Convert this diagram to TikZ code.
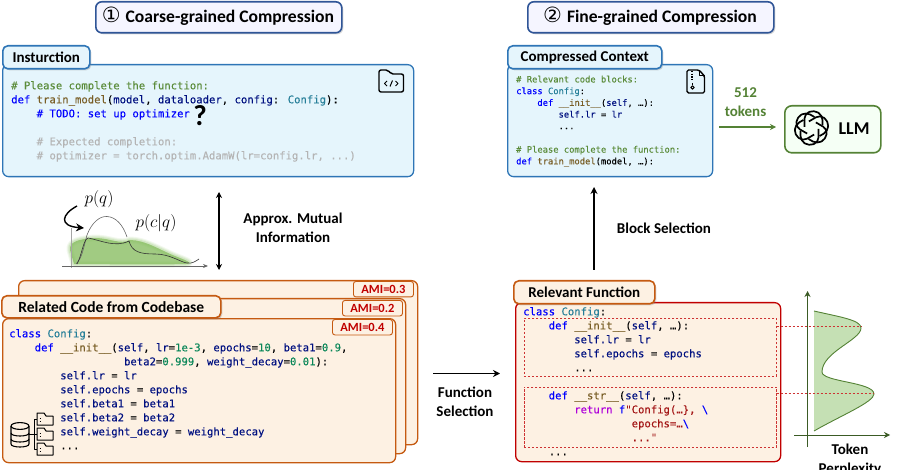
\documentclass[tikz,border=0pt]{standalone}
\usepackage{fontspec}
\setmainfont{Carlito}
\newfontfamily\codefont[FakeBold=0.12]{DejaVu Sans Mono}
\newfontfamily\symfont{DejaVu Sans}
\usetikzlibrary{arrows.meta,shadows,calc}
\definecolor{panelblue}{HTML}{E5F5FC}
\definecolor{bordblue}{HTML}{2E75B6}
\definecolor{navyb}{HTML}{2F5597}
\definecolor{cream}{HTML}{FDF1E3}
\definecolor{bordor}{HTML}{C55A11}
\definecolor{dred}{HTML}{C00000}
\definecolor{grn}{HTML}{548235}
\definecolor{lgrn}{HTML}{C5E0B4}
\definecolor{blob}{HTML}{86BD5F}
\definecolor{ckw}{HTML}{0000FF}
\definecolor{cfn}{HTML}{795E26}
\definecolor{cvr}{HTML}{001080}
\definecolor{cty}{HTML}{267F99}
\definecolor{ccm}{HTML}{5B8C3A}
\definecolor{cnm}{HTML}{098658}
\definecolor{cst}{HTML}{A31515}
\definecolor{crt}{HTML}{AF00DB}
\definecolor{cgy}{HTML}{B4B4B4}
\newcommand{\kw}[1]{\textcolor{ckw}{#1}}
\newcommand{\fn}[1]{\textcolor{cfn}{#1}}
\newcommand{\vr}[1]{\textcolor{cvr}{#1}}
\newcommand{\ty}[1]{\textcolor{cty}{#1}}
\newcommand{\cm}[1]{\textcolor{ccm}{#1}}
\newcommand{\nm}[1]{\textcolor{cnm}{#1}}
\newcommand{\st}[1]{\textcolor{cst}{#1}}
\newcommand{\rt}[1]{\textcolor{crt}{#1}}
\newcommand{\gy}[1]{\textcolor{cgy}{#1}}
\newcommand{\ind}[1]{\hspace*{#1\dimexpr 0.602em\relax}}
\newcommand{\blobpath}{(70,250) .. controls (69,241) and (80,239) .. (95,238) .. controls (110,238) and (120,245) .. (130,240) .. controls (145,240) and (160,250) .. (175,256) .. controls (185,260) and (194,263) .. (186,264) .. controls (150,265) and (100,264) .. (74,264) -- cycle}
\tikzset{
  x=1pt,y=-1pt,
  panel/.style={draw=#1,line width=1.3pt,rounded corners=6pt,anchor=north west,inner sep=0pt},
  titlebox/.style={draw=navyb,fill=white!96!blue,line width=1.6pt,rounded corners=6pt,anchor=north west,inner sep=0pt,
     drop shadow={opacity=.3,shadow xshift=1.5pt,shadow yshift=-1.5pt}},
  tagbox/.style={draw=#1,line width=1.6pt,rounded corners=5pt,anchor=north west,inner sep=0pt,
     drop shadow={opacity=.3,shadow xshift=1.5pt,shadow yshift=-1.5pt}},
  amibox/.style={draw=bordor,fill=cream,line width=.9pt,rounded corners=2.5pt,anchor=north west,inner sep=0pt,
     minimum width=60pt,minimum height=15.5pt,text=dred,font=\fontsize{12.5}{14}\selectfont\bfseries},
  lab/.style={inner sep=0pt,align=center,font=\fontsize{15}{19}\selectfont\bfseries},
  codeA/.style={anchor=north west,inner sep=0pt,align=left,font=\codefont\fontsize{10.6}{14}\selectfont,text=black},
  codeB/.style={anchor=north west,inner sep=0pt,align=left,font=\codefont\fontsize{8.8}{11.7}\selectfont,text=black},
  flow/.style={draw=black,line width=1.5pt,-{Stealth[length=7pt,width=7pt]}},
  icon/.style={draw=black,line width=1.4pt,line join=round},
  ticon/.style={draw=black,line width=1pt,line join=round},
  ddash/.style={draw=dred!80!white,line width=.5pt,dash pattern=on 2.5pt off 1.5pt},
}
\begin{document}
\begin{tikzpicture}
\useasboundingbox (0,0) rectangle (902,470);
\clip (0,0) rectangle (902,470);

% titles
\node[titlebox,minimum width=246pt,minimum height=31pt] (t1) at (95,1) {};
\node[inner sep=0pt,font=\fontsize{17.6}{22}\selectfont\bfseries] (t1t) at (218,16) {{\symfont\mdseries\fontsize{21}{20}\selectfont ①}\hspace{1pt} Coarse-grained Compression};
\node[titlebox,minimum width=246pt,minimum height=31pt] (t2) at (527,1) {};
\node[inner sep=0pt,font=\fontsize{17.6}{22}\selectfont\bfseries] (t2t) at (650,16) {{\symfont\mdseries\fontsize{21}{20}\selectfont ②}\hspace{1pt} Fine-grained Compression};

% instruction panel
\node[panel=bordblue,fill=panelblue,minimum width=411pt,minimum height=112pt] (ins) at (2,64) {};
\node[tagbox=bordblue,fill=panelblue,minimum width=87pt,minimum height=23pt,font=\fontsize{15}{18}\selectfont\bfseries] (instag) at (2,45) {Insturction};
\node[codeA] (inscode) at (11,81) {\cm{\# Please complete the function:}\\
\kw{def} \fn{train\_model}(\vr{model}, \vr{dataloader}, \vr{config}: \ty{Config}):\\
\ind{4}\kw{\# TODO: set up optimizer}\\
\mbox{}\\
\ind{4}\gy{\# Expected completion:}\\
\ind{4}\gy{\# optimizer = torch.optim.AdamW(lr=config.lr, ...)}};
\node[inner sep=0pt,font=\fontsize{29}{30}\selectfont\bfseries] (qm) at (200,116) {?};

% folder code icon
\draw[icon,rounded corners=2pt] (379,92) -- (379,70) -- (388,70) -- (391,74) -- (403.5,74) -- (403.5,92) -- cycle;
\draw[ticon] (387,81) -- (384.5,83.5) -- (387,86);
\draw[ticon] (395.5,81) -- (398,83.5) -- (395.5,86);
\draw[ticon] (392.5,80.5) -- (390,86.5);

% compressed panel
\node[panel=bordblue,fill=panelblue,minimum width=205pt,minimum height=112pt] (comp) at (507,64) {};
\node[tagbox=bordblue,fill=panelblue,minimum width=154pt,minimum height=23pt,font=\fontsize{15}{18}\selectfont\bfseries] (comptag) at (507,45) {Compressed Context};
\node[codeB] (compcode) at (516,75.5) {\cm{\# Relevant code blocks:}\\
\kw{class} \ty{Config}:\\
\ind{4}\kw{def} \fn{\_\_init\_\_}(\vr{self}, …):\\
\ind{8}\vr{self.lr} = \vr{lr}\\
\ind{8}...\\
\mbox{}\\
\cm{\# Please complete the function:}\\
\kw{def} \fn{train\_model}(model, …):};
% zip icon
\draw[icon,rounded corners=1.5pt] (687,70) -- (699,70) -- (704.5,76) -- (704.5,93) -- (687,93) -- cycle;
\draw[ticon] (699,70) -- (699,76) -- (704.5,76);
\draw[ticon,line width=2pt,dash pattern=on 1.4pt off 1.2pt] (692,71) -- (692,81);
\draw[ticon] (692.5,83) -- (692.5,85);
\draw[ticon] (692.5,87.5) circle (1.7pt);

% LLM
\node[draw=grn,fill=white!96!green,line width=1.6pt,rounded corners=7pt,anchor=north west,inner sep=0pt,minimum width=96pt,minimum height=47pt] (llm) at (784,105) {};
\foreach \a in {0,60,...,300}{
  \draw[black,line width=1.7pt,rounded corners=4.5pt,rotate around={\a:(811.5,128)}] (804.5,127) -- (804.5,114) -- (814,110) -- (822.5,115.5) -- (822.5,125);
}
\node[inner sep=0pt,font=\fontsize{18}{20}\selectfont\bfseries] (llmt) at (854,129) {LLM};
\coordinate (ca) at (719,127);
\coordinate (cb) at (776,127);
\draw[draw=grn,line width=1.6pt,-{Stealth[length=6pt,width=6pt]}] (ca) -- (cb);
\node[lab,text=grn] (tok) at (745.5,102) {512\\tokens};

% mutual info
\coordinate (ma) at (219,192);
\coordinate (mb) at (219,270);
\draw[draw=black,line width=1.4pt,{Stealth[length=6pt,width=6pt]}-{Stealth[length=6pt,width=6pt]}] (ma) -- (mb);
\node[lab] (ami) at (293,228) {Approx. Mutual\\Information};

% sketch
\foreach \w/\o in {7/.10,5/.14,3/.2}{
 \draw[draw=blob,line width=\w pt,opacity=\o,line join=round] \blobpath;
}
\fill[fill=blob,opacity=.78] \blobpath;
\draw[gray!70,line width=.8pt] (71,228) -- (71,268);
\draw[gray!80!black,line width=.8pt,-{Stealth[length=5pt,width=4pt]}] (62,266) -- (208,266);
\draw[gray!80!black,line width=.6pt] (76,264) .. controls (82,258) and (83,250) .. (87,235) .. controls (92,222) and (100,216) .. (107,216.5) .. controls (116,217) and (123,225) .. (127,237);
\draw[black!80,line width=.6pt] (77,264) .. controls (82,255) and (83,240) .. (88,238) .. controls (100,240) and (115,248) .. (129,241) .. controls (132,252) and (140,254) .. (155,254) .. controls (170,254) and (180,262) .. (187,263) .. controls (192,264) and (196,261) .. (199,259);
\draw[black,line width=1.4pt,-{Stealth[length=8pt,width=8pt]}] (77,206) .. controls (62,214) and (58,226) .. (84,228);
\node[inner sep=0pt,font=\fontsize{17}{18}\selectfont] (pq) at (99,199) {$p(q)$};
\node[inner sep=0pt,font=\fontsize{17}{18}\selectfont] (pcq) at (156,223) {$p(c|q)$};

% stacked cards
\node[panel=bordor,fill=cream,minimum width=399pt,minimum height=164pt] (card3) at (18,280) {};
\node[panel=bordor,fill=cream,minimum width=398pt,minimum height=155pt] (card2) at (7,298) {};
\node[panel=bordor,fill=cream,minimum width=393pt,minimum height=144pt] (card1) at (2,318) {};
\node[amibox] (ami3) at (353,281) {AMI=0.3};
\node[amibox] (ami2) at (342,300) {AMI=0.2};
\node[amibox] (ami1) at (332,319) {AMI=0.4};
\node[tagbox=bordor,fill=cream,minimum width=219pt,minimum height=22pt,font=\fontsize{15.5}{18}\selectfont\bfseries] (reltag) at (1,295) {Related Code from Codebase};
\node[codeA] (relcode) at (9,329) {\kw{class} \ty{Config}:\\
\ind{4}\kw{def} \fn{\_\_init\_\_}(\vr{self}, \vr{lr}=\nm{1e-3}, \vr{epochs}=\nm{10}, \vr{beta1}=\nm{0.9},\\
\ind{18}\vr{beta2}=\nm{0.999}, \vr{weight\_decay}=\nm{0.01}):\\
\ind{8}\vr{self.lr} = \vr{lr}\\
\ind{8}\vr{self.epochs} = \vr{epochs}\\
\ind{8}\vr{self.beta1} = \vr{beta1}\\
\ind{8}\vr{self.beta2} = \vr{beta2}\\
\ind{8}\vr{self.weight\_decay} = \vr{weight\_decay}\\
\ind{8}...};

% database + folders icon
\draw[ticon,line width=1.1pt] (11,426) -- (11,444) .. controls (11,448) and (29,448) .. (29,444) -- (29,426);
\draw[ticon,line width=1.1pt] (20,426) ellipse (9pt and 3.4pt);
\draw[ticon,line width=1.1pt] (11,433) .. controls (11,437) and (29,437) .. (29,433);
\draw[ticon,line width=1.1pt] (11,439) .. controls (11,443) and (29,443) .. (29,439);
\draw[ticon,line width=1pt] (29,434) -- (34,434);
\draw[ticon,line width=1pt] (37,419) -- (34,419) -- (34,449) -- (37,449);
\draw[ticon,line width=1pt] (34,434) -- (37,434);
\foreach \yy in {413,428,443}{
  \draw[ticon,line width=1pt,fill=cream] (37,\yy) -- (44,\yy) -- (46,\yy+3) -- (53,\yy+3) -- (53,\yy+12) -- (37,\yy+12) -- cycle;
  \draw[ticon,line width=.6pt] (39.5,\yy+5) -- (40.5,\yy+5) (39.5,\yy+8) -- (40.5,\yy+8);
}

% function selection
\coordinate (fa) at (433,373.5);
\coordinate (fb) at (500,373.5);
\draw[flow] (fa) -- (fb);
\node[lab] (fs) at (465,401.5) {Function\\Selection};

% relevant function
\node[panel=dred,fill=cream,minimum width=265pt,minimum height=159pt] (rel) at (515,302) {};
\node[tagbox=bordor,fill=cream,minimum width=141pt,minimum height=23pt,font=\fontsize{15}{18}\selectfont\bfseries] (rftag) at (513,280) {Relevant Function};
\node[codeA] (rf1) at (523,307) {\kw{class} \ty{Config}:\\
\ind{4}\kw{def} \fn{\_\_init\_\_}(\vr{self}, …):\\
\ind{8}\vr{self.lr} = \vr{lr}\\
\ind{8}\vr{self.epochs} = \vr{epochs}\\
\ind{8}...};
\node[codeA] (rf2) at (523,391) {\ind{4}\kw{def} \fn{\_\_str\_\_}(\vr{self}, …):\\
\ind{8}\rt{return} \kw{f}\st{"Config(…\}, }\kw{\textbackslash}\\
\ind{17}\st{epochs=…}\kw{\textbackslash}\\
\ind{17}\st{..."}\\
\ind{4}...};
\node[ddash,anchor=north west,inner sep=0pt,minimum width=252.5pt,minimum height=57.5pt] (d1) at (523.5,318) {};
\node[ddash,anchor=north west,inner sep=0pt,minimum width=252.5pt,minimum height=60.5pt] (d2) at (523.5,386.5) {};

% block selection
\coordinate (ba) at (594,270);
\coordinate (bb) at (594,187);
\draw[flow] (ba) -- (bb);
\node[lab] (bs) at (664,228) {Block Selection};

% perplexity plot
\filldraw[draw=grn,fill=lgrn,line width=.9pt] (814,311) .. controls (840,317) and (861,320) .. (861,328) .. controls (861,340) and (822,352) .. (822,372) .. controls (822,382) and (874,382) .. (874,394) .. controls (874,402) and (840,416) .. (814,431);
\coordinate (xa) at (794,435);
\coordinate (xb) at (890,435);
\coordinate (ya) at (807.5,447);
\coordinate (yb) at (807.5,291);
\draw[draw=grn!70!black,line width=.9pt,-{Stealth[length=6pt,width=6pt]}] (xa) -- (xb);
\draw[draw=grn!70!black,line width=.9pt,-{Stealth[length=6pt,width=6pt]}] (ya) -- (yb);
\coordinate (ra) at (861,326);
\coordinate (rb) at (874,393.5);
\draw[ddash] (d1.east |- ra) -- (ra);
\draw[ddash] (d2.east |- rb) -- (rb);
\node[lab] (tp) at (850,460) {Token\\Perplexity};
\end{tikzpicture}
\end{document}
